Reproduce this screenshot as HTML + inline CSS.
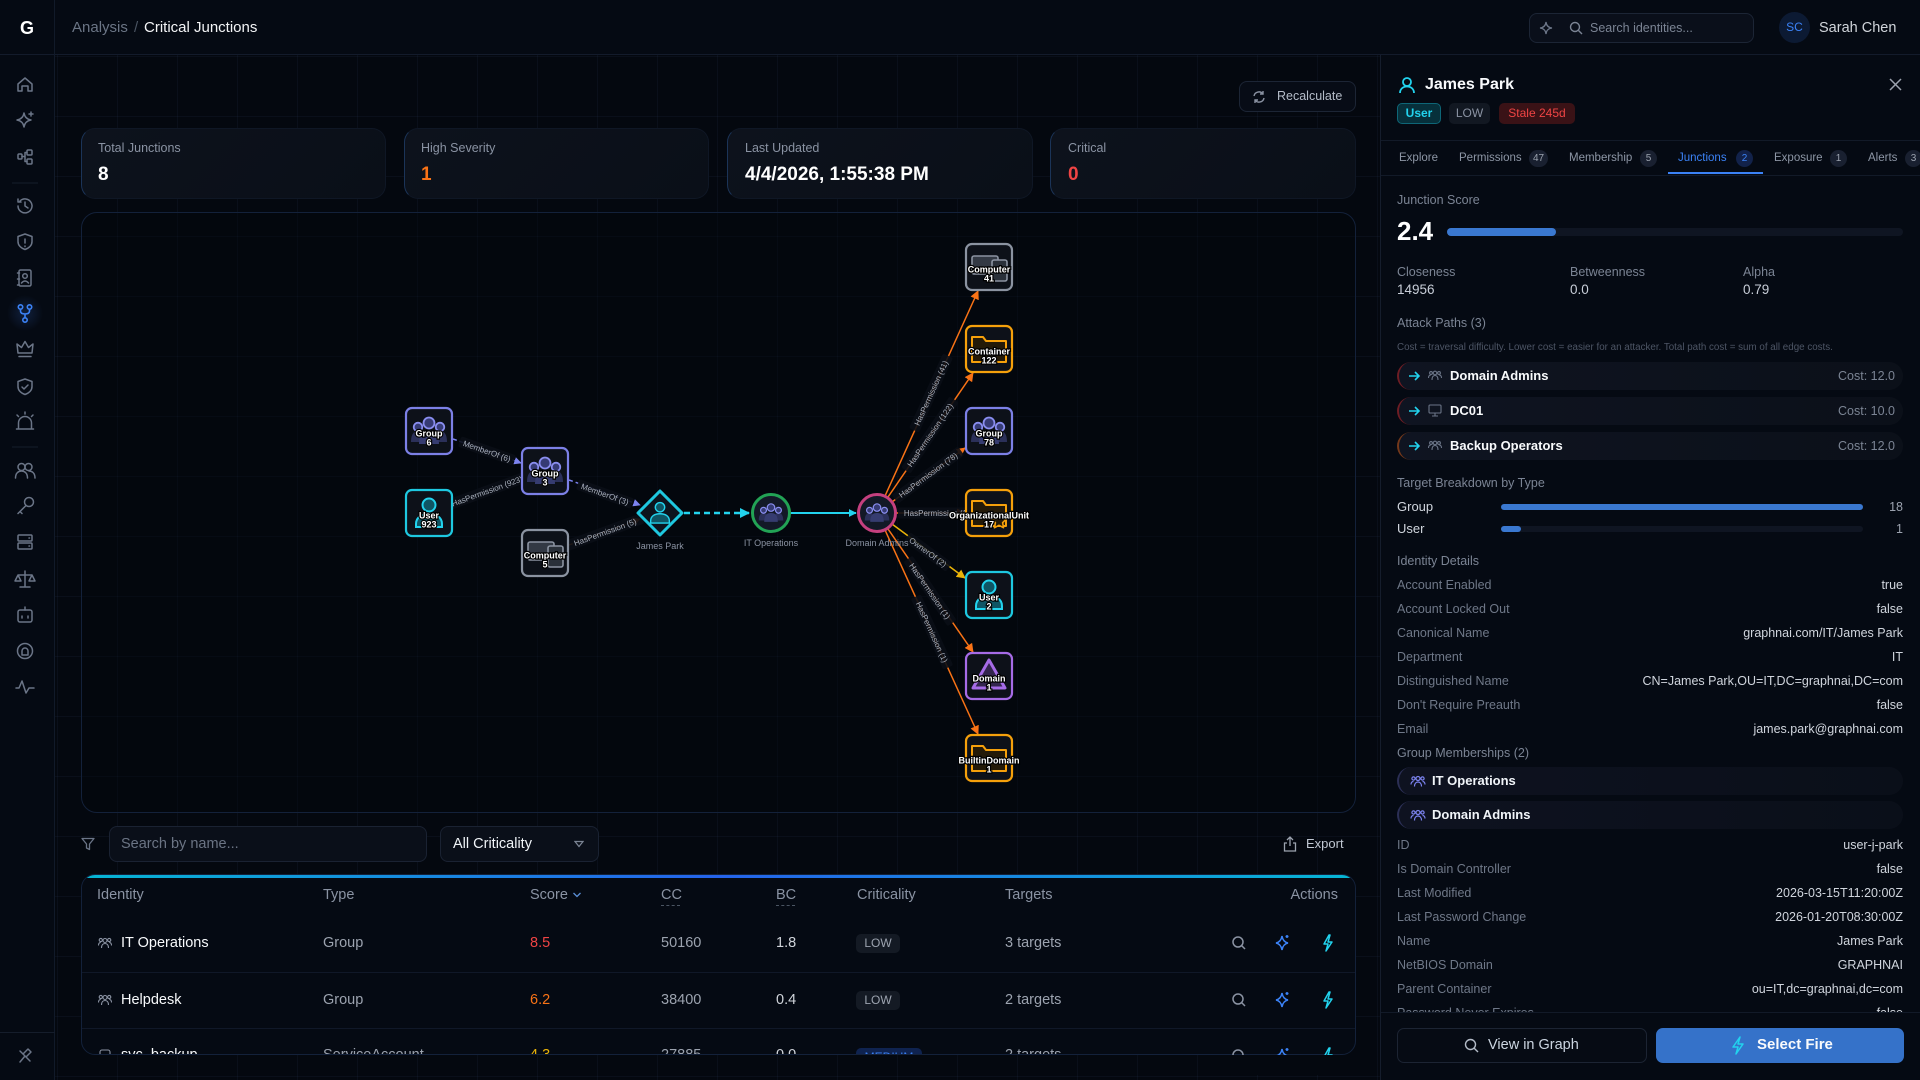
<!DOCTYPE html>
<html><head><meta charset="utf-8">
<style>
*{box-sizing:border-box;margin:0;padding:0}
body{width:1920px;height:1080px;background:#04080f;font-family:"Liberation Sans",sans-serif;position:relative;overflow:hidden;color:#e5e7eb}
.a{position:absolute}
.t{position:absolute;white-space:nowrap;line-height:20px;height:20px}
.grid{left:55px;top:55px;width:1325px;height:1025px;background-image:linear-gradient(90deg,rgba(70,100,150,.08) 1px,transparent 1px),linear-gradient(rgba(70,100,150,.08) 1px,transparent 1px);background-size:60px 60px;background-position:2px 1px}
.card{position:absolute;top:128px;height:71px;border-radius:14px;background:linear-gradient(135deg,#0d121c,#0a0f18);border:1px solid #0f1725;border-left:1.5px solid #1b3458}
.cl{font-size:12.5px;color:#8a93a3;top:138px}
.cv{font-size:19px;font-weight:bold;top:165px}
.lab{font-size:12.5px;color:#6f7888;left:1397px}
.val{font-size:12.5px;color:#d0d5dd;right:17px}
.sec{font-size:12.5px;color:#7b8494;left:1397px}
.tab{font-size:11.5px;color:#8d96a5;top:148px}
.tb{position:absolute;top:150px;height:17px;min-width:17px;border-radius:9px;background:#192030;color:#9ca3af;font-size:10px;line-height:17px;text-align:center;padding:0 4px}
.ap{position:absolute;left:1397px;width:506px;height:28px;border-radius:14px;background:linear-gradient(90deg,#0f1421,#0b1019);border-left:2px solid #6e1d24}
.gm{position:absolute;left:1397px;width:506px;height:28px;border-radius:14px;background:linear-gradient(90deg,#0e1220,#0a0f19);border-left:2px solid #2b2f55}
.th{font-size:14.5px;color:#8a93a3;top:10px}
.td{font-size:14.5px;color:#9ca3af}
.badge{position:absolute;height:19px;border-radius:5px;font-size:12px;line-height:19px;text-align:center}
</style></head><body>

<div class="a grid"></div>

<!-- top bar -->
<div class="a" style="left:0;top:0;width:1920px;height:55px;background:#050a13;border-bottom:1px solid #131b2b"></div>
<div class="t" style="left:20px;top:18px;font-size:18px;font-weight:bold;color:#fff">G</div>
<div class="t" style="left:72px;top:18px;font-size:15px;color:#6b7585">Analysis</div>
<div class="t" style="left:134px;top:18px;font-size:15px;color:#4b5563">/</div>
<div class="t" style="left:144px;top:18px;font-size:15px;color:#f3f4f6">Critical Junctions</div>

<div class="a" style="left:1529px;top:13px;width:225px;height:30px;border:1px solid #1c2535;border-radius:8px;background:#0a0f1a"></div>
<svg class="a" style="left:1538px;top:20px" width="16" height="16" viewBox="0 0 16 16"><path d="M8 2 Q8.6 7.4 14 8 Q8.6 8.6 8 14 Q7.4 8.6 2 8 Q7.4 7.4 8 2Z" fill="none" stroke="#6b7587" stroke-width="1.3"/></svg>
<svg class="a" style="left:1569px;top:21px" width="14" height="14" viewBox="0 0 14 14"><circle cx="6" cy="6" r="4.5" fill="none" stroke="#7b8494" stroke-width="1.4"/><line x1="9.5" y1="9.5" x2="13" y2="13" stroke="#7b8494" stroke-width="1.4"/></svg>
<div class="t" style="left:1590px;top:18px;font-size:12.5px;color:#7b8494">Search identities...</div>
<div class="a" style="left:1779px;top:12px;width:31px;height:31px;border-radius:50%;background:#0c1a33;color:#3b82f6;font-size:12px;line-height:31px;text-align:center">SC</div>
<div class="t" style="left:1819px;top:18px;font-size:14.5px;color:#d1d5db">Sarah Chen</div>

<!-- sidebar -->
<div class="a" style="left:0;top:55px;width:55px;height:1025px;background:#050a13;border-right:1px solid #111a29"></div>
<div class="a" style="left:54px;top:0;width:1px;height:55px;background:#111a29"></div>
<div class="a" style="left:0;top:1032px;width:55px;height:1px;background:#151d2b"></div>
<svg class="a" style="left:0;top:0" width="55" height="1080">
<defs><radialGradient id="glow"><stop offset="0" stop-color="#1d3a70" stop-opacity=".45"/><stop offset="1" stop-color="#1d3a70" stop-opacity="0"/></radialGradient></defs>
<circle cx="25" cy="313" r="18" fill="url(#glow)"/>
<g fill="none" stroke="#6b7587" stroke-width="1.5" stroke-linecap="round" stroke-linejoin="round">
<path d="M18 91 v-7 l7-6 7 6 v7 h-4 v-5 h-6 v5z"/>
<path d="M24 113 q1 6 7 7 q-6 1 -7 7 q-1-6 -7-7 q6-1 7-7z"/><path d="M31 112 v4 M29 114 h4"/>
<rect x="18" y="154" width="4" height="5" rx="1"/><rect x="27" y="150" width="5" height="5" rx="1"/><rect x="27" y="159" width="5" height="5" rx="1"/><path d="M22 156.5 h3 v-4 h2 M25 156.5 v5 h2"/>
<path d="M18 206 a7 7 0 1 0 2-5 M18 199 v3 h3 M25 202 v4 l3 2"/>
<path d="M25 234 l7 2.5 v5 c0 4-3 6.5-7 8 c-4-1.5-7-4-7-8 v-5z"/><path d="M25 239 v4 M25 246 v.5"/>
<rect x="19" y="270" width="12" height="16" rx="1.5"/><circle cx="25" cy="276" r="2.3"/><path d="M21.5 283 q3.5-4 7 0 M17.5 273 h2 M17.5 279 h2 M17.5 285 h2"/>
<path d="M18 353 l-1-9 4.5 3.5 3.5-6 3.5 6 4.5-3.5 -1 9z M19 356.5 h12"/>
<path d="M25 379 l7 2.5 v5 c0 4-3 6.5-7 8 c-4-1.5-7-4-7-8 v-5z"/><path d="M22 387 l2 2 4-4"/>
<path d="M18.5 428 v-5 a6.5 6.5 0 0 1 13 0 v5 M16.5 429 h17 M25 412 v2 M17 415 l1.5 1.5 M33 415 l-1.5 1.5"/>
<circle cx="21.5" cy="467" r="3.5"/><path d="M15.5 478 c0-5 3-7 6-7 s6 2 6 7"/><circle cx="28.5" cy="467" r="3.5"/><path d="M29 471 c3 0 6 2 6 7"/>
<circle cx="29" cy="502" r="4.5"/><path d="M26 505.5 l-8 8 M20 511.5 l2 2"/>
<rect x="18" y="535" width="14" height="6" rx="1"/><rect x="18" y="543" width="14" height="6" rx="1"/><path d="M29 538 h.5 M29 546 h.5"/>
<path d="M25 571 v16 M20 587 h10 M18 575 h14 M18 575 l-3 6 h6z M32 575 l-3 6 h6z"/>
<rect x="18" y="610" width="14" height="12" rx="2"/><path d="M25 610 v-3 M22 616 v2 M28 616 v2"/>
<circle cx="25" cy="651" r="7.5"/><path d="M22 655 v-4 a3 3 0 0 1 6 0 v4z"/>
<path d="M16 688 h3 l3-7 4 12 3-5 h5"/>
<path d="M20 1051 l10 10 M23 1054 l5-5 3 3 -5 5 M25 1056 l-5 6"/>
</g>
<g fill="none" stroke="#3b82f6" stroke-width="1.6"><circle cx="20.5" cy="307" r="2.2"/><circle cx="29.5" cy="307" r="2.2"/><circle cx="25" cy="320" r="2.2"/><path d="M20.5 309 v2 q0 3 4.5 3 q4.5 0 4.5-3 v-2 M25 314 v4"/></g>
<path d="M12 183 h26 M12 447 h26" stroke="#151d2b" stroke-width="1"/>
</svg>

<!-- recalculate -->
<div class="a" style="left:1239px;top:81px;width:117px;height:31px;border:1px solid #1c2535;border-radius:8px;background:#070c16"></div>
<svg class="a" style="left:1252px;top:90px" width="14" height="14" viewBox="0 0 14 14"><g fill="none" stroke="#8b93a3" stroke-width="1.4"><path d="M2 6 a5 5 0 0 1 9-2 M12 8 a5 5 0 0 1 -9 2"/><path d="M11 1 v3 h-3 M3 13 v-3 h3"/></g></svg>
<div class="t" style="left:1277px;top:86px;font-size:12.5px;color:#b4bcc8">Recalculate</div>

<!-- stat cards -->
<div class="card" style="left:81px;width:305px"></div>
<div class="card" style="left:404px;width:305px"></div>
<div class="card" style="left:727px;width:306px"></div>
<div class="card" style="left:1050px;width:306px"></div>
<div class="t cl" style="left:98px">Total Junctions</div>
<div class="t cv" style="left:98px;color:#fff">8</div>
<div class="t cl" style="left:421px">High Severity</div>
<div class="t cv" style="left:421px;color:#f97316">1</div>
<div class="t cl" style="left:745px">Last Updated</div>
<div class="t cv" style="left:745px;color:#fff">4/4/2026, 1:55:38 PM</div>
<div class="t cl" style="left:1068px">Critical</div>
<div class="t cv" style="left:1068px;color:#ef4444">0</div>

<!-- graph panel -->
<div class="a" style="left:81px;top:212px;width:1275px;height:601px;border:1px solid #13213a;border-radius:16px;background:rgba(3,6,12,.35)"></div>
<svg class="a" style="left:0;top:0" width="1380" height="820" font-family="Liberation Sans, sans-serif">
<defs>
<marker id="mi" viewBox="0 0 10 10" refX="9" refY="5" markerWidth="5" markerHeight="5" orient="auto"><path d="M0,0 L10,5 L0,10z" fill="#7c83f0"/></marker>
<marker id="mo" viewBox="0 0 10 10" refX="9" refY="5" markerWidth="6" markerHeight="6" orient="auto"><path d="M0,0 L10,5 L0,10z" fill="#f97316"/></marker>
<marker id="my" viewBox="0 0 10 10" refX="9" refY="5" markerWidth="6" markerHeight="6" orient="auto"><path d="M0,0 L10,5 L0,10z" fill="#eab308"/></marker>
<marker id="mc" viewBox="0 0 10 10" refX="9" refY="5" markerWidth="4" markerHeight="4" orient="auto"><path d="M0,0 L10,5 L0,10z" fill="#22d3ee"/></marker>
<g id="gi">
<path d="M-18 11 c0-8 3-11 7-11 s7 3 7 11z" fill="#2b3059"/>
<path d="M4 11 c0-8 3-11 7-11 s7 3 7 11z" fill="#2b3059"/>
<path d="M-10 13 c0-10 4-13 10-13 s10 3 10 13z" fill="#363c70"/>
<circle cx="-11" cy="-4" r="4.3" fill="#363b74" stroke="#8a8ef0" stroke-width="1.8"/>
<circle cx="11" cy="-4" r="4.3" fill="#363b74" stroke="#8a8ef0" stroke-width="1.8"/>
<circle cx="0" cy="-8" r="5.5" fill="#363b74" stroke="#8a8ef0" stroke-width="1.8"/>
</g>
<g id="ui">
<circle cx="0" cy="-8" r="6.5" fill="#0f5564" stroke="#22d3ee" stroke-width="2"/>
<path d="M-13 14 v-3 c0-7 6-10 13-10 s13 3 13 10 v3z" fill="#0f5564" stroke="#22d3ee" stroke-width="2"/>
</g>
<g id="ci">
<rect x="-17" y="-11" width="26" height="18" rx="2" fill="#333944" stroke="#8b93a1" stroke-width="1.6"/>
<rect x="3" y="-7" width="15" height="21" rx="2" fill="#2a3039" stroke="#8b93a1" stroke-width="1.6"/>
</g>
<g id="fi"><path d="M-17 -12 h11 l3 4 h20 v21 h-34z" fill="#241a08" stroke="#f5a00b" stroke-width="2" stroke-linejoin="round"/></g>
</defs>
<style>
.el{font-size:8px;fill:#a9b0bd}
.nl{font-size:9px;font-weight:bold;fill:#fff;stroke:#000;stroke-width:2.4px;paint-order:stroke;text-anchor:middle}
.gl{font-size:9px;fill:#8b93a3;text-anchor:middle}
</style>

<!-- left edges -->
<line x1="453" y1="439" x2="521" y2="463" stroke="#7c83f0" stroke-width="1.5" stroke-dasharray="4 3" marker-end="url(#mi)"/>
<line x1="453" y1="505" x2="521" y2="479" stroke="#343b49" stroke-width="1.2"/>
<line x1="569" y1="480" x2="640" y2="505" stroke="#7c83f0" stroke-width="1.5" stroke-dasharray="4 3" marker-end="url(#mi)"/>
<line x1="569" y1="545" x2="640" y2="519" stroke="#f97316" stroke-width="1.3" stroke-dasharray="4 3" marker-end="url(#mo)" opacity=".9"/>
<line x1="684" y1="513" x2="749" y2="513" stroke="#22d3ee" stroke-width="2.5" stroke-dasharray="6 4" marker-end="url(#mc)"/>
<line x1="790" y1="513" x2="856" y2="513" stroke="#22d3ee" stroke-width="2" marker-end="url(#mc)"/>
<!-- right edges -->
<g stroke-width="1.5">
<line x1="885" y1="496" x2="978" y2="291" stroke="#f97316" marker-end="url(#mo)"/>
<line x1="888" y1="497" x2="973" y2="373" stroke="#f97316" marker-end="url(#mo)"/>
<line x1="892" y1="502" x2="965" y2="448" stroke="#f97316" marker-end="url(#mo)"/>
<line x1="896" y1="513" x2="965" y2="513" stroke="#f97316" marker-end="url(#mo)"/>
<line x1="892" y1="524" x2="965" y2="578" stroke="#eab308" marker-end="url(#my)"/>
<line x1="888" y1="529" x2="973" y2="652" stroke="#f97316" marker-end="url(#mo)"/>
<line x1="885" y1="530" x2="978" y2="734" stroke="#f97316" marker-end="url(#mo)"/>
</g>
<!-- edge labels -->
<g transform="translate(487 451) rotate(19.3)"><rect x="-29" y="-5.5" width="58" height="11" rx="2" fill="#0a0e16" opacity=".9"/><text class="el" text-anchor="middle" y="3">MemberOf (6)</text></g>
<g transform="translate(487 491) rotate(-20)"><rect x="-44" y="-5.5" width="88" height="11" rx="2" fill="#0a0e16" opacity=".9"/><text class="el" text-anchor="middle" y="3">HasPermission (923)</text></g>
<g transform="translate(605 494) rotate(19.5)"><rect x="-29" y="-5.5" width="58" height="11" rx="2" fill="#0a0e16" opacity=".9"/><text class="el" text-anchor="middle" y="3">MemberOf (3)</text></g>
<g transform="translate(605 532) rotate(-20)"><rect x="-40" y="-5.5" width="80" height="11" rx="2" fill="#0a0e16" opacity=".9"/><text class="el" text-anchor="middle" y="3">HasPermission (5)</text></g>
<g transform="translate(931 393) rotate(-65.5)"><rect x="-41" y="-5.5" width="82" height="11" rx="2" fill="#0a0e16" opacity=".9"/><text class="el" text-anchor="middle" y="3">HasPermission (41)</text></g>
<g transform="translate(930 435) rotate(-55.7)"><rect x="-43" y="-5.5" width="86" height="11" rx="2" fill="#0a0e16" opacity=".9"/><text class="el" text-anchor="middle" y="3">HasPermission (122)</text></g>
<g transform="translate(928 475) rotate(-36.2)"><rect x="-41" y="-5.5" width="82" height="11" rx="2" fill="#0a0e16" opacity=".9"/><text class="el" text-anchor="middle" y="3">HasPermission (78)</text></g>
<g transform="translate(939 513)"><rect x="-41" y="-5.5" width="82" height="11" rx="2" fill="#0a0e16" opacity=".9"/><text class="el" text-anchor="middle" y="3">HasPermission (17)</text></g>
<g transform="translate(928 552) rotate(36.2)"><rect x="-26" y="-5.5" width="52" height="11" rx="2" fill="#0a0e16" opacity=".9"/><text class="el" text-anchor="middle" y="3">OwnerOf (2)</text></g>
<g transform="translate(930 591) rotate(55.5)"><rect x="-39" y="-5.5" width="78" height="11" rx="2" fill="#0a0e16" opacity=".9"/><text class="el" text-anchor="middle" y="3">HasPermission (1)</text></g>
<g transform="translate(932 632) rotate(65.4)"><rect x="-39" y="-5.5" width="78" height="11" rx="2" fill="#0a0e16" opacity=".9"/><text class="el" text-anchor="middle" y="3">HasPermission (1)</text></g>

<!-- left nodes -->
<g transform="translate(429 431)"><rect x="-23" y="-23" width="46" height="46" rx="6" fill="#0d1119" stroke="#7c80e6" stroke-width="2.2"/><use href="#gi"/><text class="nl" y="5.5">Group</text><text class="nl" y="14.5">6</text></g>
<g transform="translate(429 513)"><rect x="-23" y="-23" width="46" height="46" rx="6" fill="#0d1119" stroke="#1ec8e0" stroke-width="2.2"/><use href="#ui"/><text class="nl" y="5.5">User</text><text class="nl" y="14.5">923</text></g>
<g transform="translate(545 471)"><rect x="-23" y="-23" width="46" height="46" rx="6" fill="#0d1119" stroke="#7c80e6" stroke-width="2.2"/><use href="#gi"/><text class="nl" y="5.5">Group</text><text class="nl" y="14.5">3</text></g>
<g transform="translate(545 553)"><rect x="-23" y="-23" width="46" height="46" rx="6" fill="#0d1119" stroke="#8b93a1" stroke-width="2.2"/><use href="#ci"/><text class="nl" y="5.5">Computer</text><text class="nl" y="14.5">5</text></g>
<!-- James Park -->
<g transform="translate(660 513)"><path d="M0 -22 L22 0 L0 22 L-22 0Z" fill="#0c141e" stroke="#1ec8e0" stroke-width="3" stroke-linejoin="round"/><g transform="scale(.72)"><use href="#ui"/></g></g>
<text class="gl" x="660" y="549">James Park</text>
<g transform="translate(771 513)"><circle r="18.5" fill="#131927" stroke="#22a355" stroke-width="3"/><g transform="scale(.68)"><use href="#gi"/></g></g>
<text class="gl" x="771" y="546">IT Operations</text>
<g transform="translate(877 513)"><circle r="18.5" fill="#131927" stroke="#c5407f" stroke-width="3"/><g transform="scale(.68)"><use href="#gi"/></g></g>
<text class="gl" x="877" y="546">Domain Admins</text>

<!-- right nodes -->
<g transform="translate(989 267)"><rect x="-23" y="-23" width="46" height="46" rx="6" fill="#0d1119" stroke="#8b93a1" stroke-width="2.2"/><use href="#ci"/><text class="nl" y="5.5">Computer</text><text class="nl" y="14.5">41</text></g>
<g transform="translate(989 349)"><rect x="-23" y="-23" width="46" height="46" rx="6" fill="#0d1119" stroke="#f5a00b" stroke-width="2.2"/><use href="#fi"/><text class="nl" y="5.5">Container</text><text class="nl" y="14.5">122</text></g>
<g transform="translate(989 431)"><rect x="-23" y="-23" width="46" height="46" rx="6" fill="#0d1119" stroke="#7c80e6" stroke-width="2.2"/><use href="#gi"/><text class="nl" y="5.5">Group</text><text class="nl" y="14.5">78</text></g>
<g transform="translate(989 513)"><rect x="-23" y="-23" width="46" height="46" rx="6" fill="#0d1119" stroke="#f5a00b" stroke-width="2.2"/><use href="#fi"/><path d="M10 1 l2.2 4.5 5 .7 -3.6 3.5 .9 5 -4.5-2.4 -4.5 2.4 .9-5 -3.6-3.5 5-.7z" fill="#241a08" stroke="#f5a00b" stroke-width="1.6" stroke-linejoin="round"/><text class="nl" y="5.5">OrganizationalUnit</text><text class="nl" y="14.5">17</text></g>
<g transform="translate(989 595)"><rect x="-23" y="-23" width="46" height="46" rx="6" fill="#0d1119" stroke="#1ec8e0" stroke-width="2.2"/><use href="#ui"/><text class="nl" y="5.5">User</text><text class="nl" y="14.5">2</text></g>
<g transform="translate(989 676)"><rect x="-23" y="-23" width="46" height="46" rx="6" fill="#0d1119" stroke="#a66be6" stroke-width="2.2"/><path d="M0 -16 L16 12 L-16 12Z" fill="#33254d" stroke="#a66be6" stroke-width="3" stroke-linejoin="round"/><text class="nl" y="5.5">Domain</text><text class="nl" y="14.5">1</text></g>
<g transform="translate(989 758)"><rect x="-23" y="-23" width="46" height="46" rx="6" fill="#0d1119" stroke="#f5a00b" stroke-width="2.2"/><use href="#fi"/><text class="nl" y="5.5">BuiltinDomain</text><text class="nl" y="14.5">1</text></g>
</svg>

<!-- filter row -->
<svg class="a" style="left:81px;top:837px" width="14" height="14" viewBox="0 0 14 14"><path d="M1 1.5 h12 l-4.5 5.5 v5.5 l-3-1.5 v-4z" fill="none" stroke="#6b7587" stroke-width="1.3" stroke-linejoin="round"/></svg>
<div class="a" style="left:109px;top:826px;width:318px;height:36px;background:#0a0f19;border:1px solid #1a2232;border-radius:8px"></div>
<div class="t" style="left:121px;top:834px;font-size:14.5px;color:#6b7484">Search by name...</div>
<div class="a" style="left:440px;top:826px;width:159px;height:36px;background:#0a0f19;border:1px solid #1a2232;border-radius:8px"></div>
<div class="t" style="left:453px;top:834px;font-size:14.5px;color:#f1f5f9">All Criticality</div>
<svg class="a" style="left:574px;top:840px" width="10" height="8" viewBox="0 0 10 8"><path d="M1 1.5 h8 l-4 5z" fill="none" stroke="#7b8494" stroke-width="1.2"/></svg>
<svg class="a" style="left:1283px;top:836px" width="14" height="16" viewBox="0 0 14 16"><g fill="none" stroke="#9ca3af" stroke-width="1.3"><path d="M7 1 v9 M4 4 l3-3 3 3 M4 7 h-2.5 v8 h11 v-8 h-2.5"/></g></svg>
<div class="t" style="left:1306px;top:834px;font-size:13px;color:#c0c7d2">Export</div>

<!-- table -->
<div class="a" style="left:81px;top:874px;width:1275px;height:181px;border:1px solid #13213a;border-radius:14px;background:#050a13;overflow:hidden">
  <div class="a" style="left:0;top:0;width:100%;height:3px;background:linear-gradient(90deg,#06b6d4,#2563eb 50%,#06b6d4)"></div>
  <div class="a" style="left:0;top:97px;width:100%;height:1px;background:#101828"></div>
  <div class="a" style="left:0;top:153px;width:100%;height:1px;background:#101828"></div>
</div>
<div class="t th" style="left:97px;top:885px">Identity</div>
<div class="t th" style="left:323px;top:885px">Type</div>
<div class="t th" style="left:530px;top:885px">Score</div>
<svg class="a" style="left:572px;top:891px" width="10" height="8" viewBox="0 0 10 8"><path d="M1.5 2 l3.5 3.5 3.5-3.5" fill="none" stroke="#5b8fd6" stroke-width="1.3"/></svg>
<div class="t th" style="left:661px;top:885px">CC</div>
<div class="a" style="left:661px;top:905px;width:19px;border-top:1px dashed #4b5563"></div>
<div class="t th" style="left:776px;top:885px">BC</div>
<div class="a" style="left:776px;top:905px;width:19px;border-top:1px dashed #4b5563"></div>
<div class="t th" style="left:857px;top:885px">Criticality</div>
<div class="t th" style="left:1005px;top:885px">Targets</div>
<div class="t th" style="right:582px;top:885px">Actions</div>

<!-- row 1 -->
<svg class="a" style="left:98px;top:936px" width="14" height="14" viewBox="0 0 14 14"><g fill="none" stroke="#8b93a3" stroke-width="1.1"><circle cx="7" cy="4.5" r="2"/><circle cx="2.8" cy="4" r="1.6"/><circle cx="11.2" cy="4" r="1.6"/><path d="M3.5 12 c0-3 1.5-4.5 3.5-4.5 s3.5 1.5 3.5 4.5 M0.5 9.5 c0-2 1-3 2.3-3 M13.5 9.5 c0-2-1-3-2.3-3"/></g></svg>
<div class="t" style="left:121px;top:933px;font-size:14.5px;color:#f8fafc">IT Operations</div>
<div class="t td" style="left:323px;top:933px">Group</div>
<div class="t td" style="left:530px;top:933px;color:#ef4444">8.5</div>
<div class="t td" style="left:661px;top:933px">50160</div>
<div class="t td" style="left:776px;top:933px;color:#d1d5db">1.8</div>
<div class="badge" style="left:856px;top:934px;width:44px;background:#141a24;color:#9ca3af">LOW</div>
<div class="t td" style="left:1005px;top:933px">3 targets</div>
<!-- row 2 -->
<svg class="a" style="left:98px;top:993px" width="14" height="14" viewBox="0 0 14 14"><g fill="none" stroke="#8b93a3" stroke-width="1.1"><circle cx="7" cy="4.5" r="2"/><circle cx="2.8" cy="4" r="1.6"/><circle cx="11.2" cy="4" r="1.6"/><path d="M3.5 12 c0-3 1.5-4.5 3.5-4.5 s3.5 1.5 3.5 4.5 M0.5 9.5 c0-2 1-3 2.3-3 M13.5 9.5 c0-2-1-3-2.3-3"/></g></svg>
<div class="t" style="left:121px;top:990px;font-size:14.5px;color:#f8fafc">Helpdesk</div>
<div class="t td" style="left:323px;top:990px">Group</div>
<div class="t td" style="left:530px;top:990px;color:#f97316">6.2</div>
<div class="t td" style="left:661px;top:990px">38400</div>
<div class="t td" style="left:776px;top:990px;color:#d1d5db">0.4</div>
<div class="badge" style="left:856px;top:991px;width:44px;background:#141a24;color:#9ca3af">LOW</div>
<div class="t td" style="left:1005px;top:990px">2 targets</div>
<!-- row 3 (clipped) -->
<div class="a" style="left:82px;top:1040px;width:1273px;height:14px;overflow:hidden">
  <svg class="a" style="left:17px;top:9px" width="12" height="12" viewBox="0 0 12 12"><rect x="1" y="1" width="10" height="10" rx="2" fill="none" stroke="#8b93a3" stroke-width="1.1"/></svg>
  <div class="t" style="left:39px;top:5px;font-size:14.5px;color:#f8fafc">svc_backup</div>
  <div class="t td" style="left:241px;top:5px">ServiceAccount</div>
  <div class="t td" style="left:448px;top:5px;color:#eab308">4.3</div>
  <div class="t td" style="left:579px;top:5px">27885</div>
  <div class="t td" style="left:694px;top:5px;color:#d1d5db">0.0</div>
  <div class="badge" style="left:774px;top:8px;width:66px;background:#0f2350;color:#3b82f6">MEDIUM</div>
  <div class="t td" style="left:923px;top:5px">2 targets</div>
</div>
<!-- action icons -->
<svg class="a" style="left:1220px;top:925px" width="120" height="140">
<g id="acts">
<circle cx="18" cy="17" r="5" fill="none" stroke="#8b93a3" stroke-width="1.5"/><line x1="21.5" y1="20.5" x2="25" y2="24" stroke="#8b93a3" stroke-width="1.5"/>
<path d="M62 11 q1 6 6 7 q-5 1 -6 7 q-1-6 -6-7 q5-1 6-7z M67 10 v3 M65.5 11.5 h3" fill="none" stroke="#3b82f6" stroke-width="1.5"/>
<path d="M109 10 l-5 9 h4 l-2 7 6-9 h-4 l2-7z" fill="none" stroke="#22d3ee" stroke-width="1.5" stroke-linejoin="round"/>
</g>
<use href="#acts" y="57"/>
<use href="#acts" y="113"/>
</svg>
<div class="a" style="left:1210px;top:1055px;width:140px;height:20px;background:#04080f"></div>

<!-- right panel -->
<div class="a" style="left:1380px;top:55px;width:540px;height:1025px;background:#050a13;border-left:1px solid #151d2c"></div>
<svg class="a" style="left:1398px;top:76px" width="18" height="18" viewBox="0 0 18 18"><g fill="none" stroke="#22d3ee" stroke-width="1.8"><circle cx="9" cy="6" r="4"/><path d="M2 17 c0-4 3-6.5 7-6.5 s7 2.5 7 6.5"/></g></svg>
<div class="t" style="left:1425px;top:75px;font-size:16px;font-weight:bold;color:#f8fafc">James Park</div>
<svg class="a" style="left:1889px;top:78px" width="13" height="13" viewBox="0 0 13 13"><path d="M1 1 L12 12 M12 1 L1 12" stroke="#9ca3af" stroke-width="1.5"/></svg>
<div class="badge" style="left:1397px;top:103px;width:44px;height:21px;line-height:19px;background:#07303b;border:1px solid #0e6677;color:#22d3ee;font-weight:bold">User</div>
<div class="badge" style="left:1449px;top:103px;width:41px;height:21px;line-height:21px;background:#121822;color:#8b93a3">LOW</div>
<div class="badge" style="left:1499px;top:103px;width:76px;height:21px;line-height:21px;background:#3a1216;color:#ef4444">Stale 245d</div>

<div class="a" style="left:1381px;top:140px;width:539px;height:1px;background:#121a28"></div>
<div class="a" style="left:1381px;top:175px;width:539px;height:1px;background:#121a28"></div>
<div class="t tab" style="left:1399px">Explore</div>
<div class="t tab" style="left:1459px">Permissions</div><div class="tb" style="left:1529px">47</div>
<div class="t tab" style="left:1569px">Membership</div><div class="tb" style="left:1640px">5</div>
<div class="t tab" style="left:1678px;color:#3b82f6">Junctions</div><div class="tb" style="left:1736px;background:#12224a;color:#3b82f6">2</div>
<div class="a" style="left:1668px;top:172px;width:95px;height:2px;background:#3b82f6"></div>
<div class="t tab" style="left:1774px">Exposure</div><div class="tb" style="left:1830px">1</div>
<div class="t tab" style="left:1868px">Alerts</div><div class="tb" style="left:1905px">3</div>

<div class="a" style="left:1381px;top:176px;width:539px;height:836px;overflow:hidden">
<div style="position:absolute;left:-1381px;top:-176px;width:1920px;height:1100px">
<div class="t sec" style="top:190px">Junction Score</div>
<div class="t" style="left:1397px;top:221px;font-size:26px;font-weight:bold;color:#fff;line-height:20px">2.4</div>
<div class="a" style="left:1447px;top:228px;width:456px;height:8px;border-radius:4px;background:#0f1522"></div>
<div class="a" style="left:1447px;top:228px;width:109px;height:8px;border-radius:4px;background:#3a78d0"></div>
<div class="t sec" style="top:262px">Closeness</div>
<div class="t sec" style="top:262px;left:1570px">Betweenness</div>
<div class="t sec" style="top:262px;left:1743px">Alpha</div>
<div class="t" style="left:1397px;top:280px;font-size:13.5px;color:#c8ced8">14956</div>
<div class="t" style="left:1570px;top:280px;font-size:13.5px;color:#c8ced8">0.0</div>
<div class="t" style="left:1743px;top:280px;font-size:13.5px;color:#c8ced8">0.79</div>
<div class="t sec" style="top:313px">Attack Paths (3)</div>
<div class="t" style="left:1397px;top:338px;font-size:9.8px;color:#4d5565">Cost = traversal difficulty. Lower cost = easier for an attacker. Total path cost = sum of all edge costs.</div>

<div class="ap" style="top:362px"></div>
<div class="ap" style="top:397px"></div>
<div class="ap" style="top:432px;border-left-color:#74381a"></div>
<svg class="a" style="left:1405px;top:362px" width="50" height="100">
<g fill="none" stroke="#22d3ee" stroke-width="1.6"><path d="M4 14 h10 M10 10 l4 4 -4 4"/><path d="M4 49 h10 M10 45 l4 4 -4 4"/><path d="M4 84 h10 M10 80 l4 4 -4 4"/></g>
<g fill="none" stroke="#6b7587" stroke-width="1.1"><circle cx="30" cy="11" r="1.8"/><circle cx="26" cy="11" r="1.4"/><circle cx="34" cy="11" r="1.4"/><path d="M27 18 c0-3 1.3-4.5 3-4.5 s3 1.5 3 4.5 M23.5 16 c0-2 1-3 2.5-3 M36.5 16 c0-2-1-3-2.5-3"/>
<rect x="24" y="43" width="12" height="8" rx="1"/><path d="M27 54 h6 M30 51 v3"/>
<circle cx="30" cy="81" r="1.8"/><circle cx="26" cy="81" r="1.4"/><circle cx="34" cy="81" r="1.4"/><path d="M27 88 c0-3 1.3-4.5 3-4.5 s3 1.5 3 4.5 M23.5 86 c0-2 1-3 2.5-3 M36.5 86 c0-2-1-3-2.5-3"/></g>
</svg>
<div class="t" style="left:1450px;top:366px;font-size:13px;font-weight:bold;color:#f8fafc">Domain Admins</div>
<div class="t" style="left:1450px;top:401px;font-size:13px;font-weight:bold;color:#f8fafc">DC01</div>
<div class="t" style="left:1450px;top:436px;font-size:13px;font-weight:bold;color:#f8fafc">Backup Operators</div>
<div class="t" style="right:25px;top:366px;font-size:12.5px;color:#7b8494">Cost: 12.0</div>
<div class="t" style="right:25px;top:401px;font-size:12.5px;color:#7b8494">Cost: 10.0</div>
<div class="t" style="right:25px;top:436px;font-size:12.5px;color:#7b8494">Cost: 12.0</div>

<div class="t sec" style="top:473px">Target Breakdown by Type</div>
<div class="t" style="left:1397px;top:497px;font-size:13px;color:#d0d5dd">Group</div>
<div class="a" style="left:1501px;top:504px;width:362px;height:6px;border-radius:3px;background:#3a78d0"></div>
<div class="t" style="right:17px;top:497px;font-size:12.5px;color:#9ca3af">18</div>
<div class="t" style="left:1397px;top:519px;font-size:13px;color:#d0d5dd">User</div>
<div class="a" style="left:1501px;top:526px;width:362px;height:6px;border-radius:3px;background:#0f1522"></div>
<div class="a" style="left:1501px;top:526px;width:20px;height:6px;border-radius:3px;background:#3a78d0"></div>
<div class="t" style="right:17px;top:519px;font-size:12.5px;color:#9ca3af">1</div>

<div class="t sec" style="top:551px">Identity Details</div>
<div class="t lab" style="top:575px">Account Enabled</div><div class="t val" style="top:575px">true</div>
<div class="t lab" style="top:599px">Account Locked Out</div><div class="t val" style="top:599px">false</div>
<div class="t lab" style="top:623px">Canonical Name</div><div class="t val" style="top:623px">graphnai.com/IT/James Park</div>
<div class="t lab" style="top:647px">Department</div><div class="t val" style="top:647px">IT</div>
<div class="t lab" style="top:671px">Distinguished Name</div><div class="t val" style="top:671px">CN=James Park,OU=IT,DC=graphnai,DC=com</div>
<div class="t lab" style="top:695px">Don't Require Preauth</div><div class="t val" style="top:695px">false</div>
<div class="t lab" style="top:719px">Email</div><div class="t val" style="top:719px">james.park@graphnai.com</div>
<div class="t sec" style="top:743px">Group Memberships (2)</div>
<div class="gm" style="top:767px"></div>
<div class="gm" style="top:801px"></div>
<svg class="a" style="left:1410px;top:774px" width="16" height="50">
<g fill="none" stroke="#7c83f0" stroke-width="1.2"><circle cx="8" cy="4.5" r="2"/><circle cx="3.5" cy="4.5" r="1.6"/><circle cx="12.5" cy="4.5" r="1.6"/><path d="M4.5 12.5 c0-3 1.5-4.5 3.5-4.5 s3.5 1.5 3.5 4.5 M1 10.5 c0-2 1-3 2.5-3 M15 10.5 c0-2-1-3-2.5-3"/>
<g transform="translate(0 34)"><circle cx="8" cy="4.5" r="2"/><circle cx="3.5" cy="4.5" r="1.6"/><circle cx="12.5" cy="4.5" r="1.6"/><path d="M4.5 12.5 c0-3 1.5-4.5 3.5-4.5 s3.5 1.5 3.5 4.5 M1 10.5 c0-2 1-3 2.5-3 M15 10.5 c0-2-1-3-2.5-3"/></g></g>
</svg>
<div class="t" style="left:1432px;top:771px;font-size:13px;font-weight:bold;color:#f1f5f9">IT Operations</div>
<div class="t" style="left:1432px;top:805px;font-size:13px;font-weight:bold;color:#f1f5f9">Domain Admins</div>
<div class="t lab" style="top:835px">ID</div><div class="t val" style="top:835px">user-j-park</div>
<div class="t lab" style="top:859px">Is Domain Controller</div><div class="t val" style="top:859px">false</div>
<div class="t lab" style="top:883px">Last Modified</div><div class="t val" style="top:883px">2026-03-15T11:20:00Z</div>
<div class="t lab" style="top:907px">Last Password Change</div><div class="t val" style="top:907px">2026-01-20T08:30:00Z</div>
<div class="t lab" style="top:931px">Name</div><div class="t val" style="top:931px">James Park</div>
<div class="t lab" style="top:955px">NetBIOS Domain</div><div class="t val" style="top:955px">GRAPHNAI</div>
<div class="t lab" style="top:979px">Parent Container</div><div class="t val" style="top:979px">ou=IT,dc=graphnai,dc=com</div>
<div class="t lab" style="top:1003px">Password Never Expires</div><div class="t val" style="top:1003px">false</div>
</div>
</div>
<div class="a" style="left:1381px;top:1012px;width:539px;height:1px;background:#121a28"></div>
<div class="a" style="left:1397px;top:1028px;width:250px;height:35px;border:1px solid #1c2433;border-radius:7px;background:#060b14"></div>
<svg class="a" style="left:1464px;top:1038px" width="15" height="15" viewBox="0 0 15 15"><circle cx="6.5" cy="6.5" r="5" fill="none" stroke="#b4bcc8" stroke-width="1.4"/><line x1="10.2" y1="10.2" x2="14" y2="14" stroke="#b4bcc8" stroke-width="1.4"/></svg>
<div class="t" style="left:1488px;top:1035px;font-size:14.5px;color:#cbd5e1">View in Graph</div>
<div class="a" style="left:1656px;top:1028px;width:248px;height:35px;border-radius:7px;background:#3572c9"></div>
<svg class="a" style="left:1731px;top:1036px" width="14" height="19" viewBox="0 0 14 19"><path d="M9 1 l-7 10 h5 l-2 7 7-10 h-5 l2-7z" fill="none" stroke="#22d3ee" stroke-width="1.5" stroke-linejoin="round"/></svg>
<div class="t" style="left:1757px;top:1035px;font-size:15px;font-weight:bold;color:#f8fafc">Select Fire</div>

</body></html>
